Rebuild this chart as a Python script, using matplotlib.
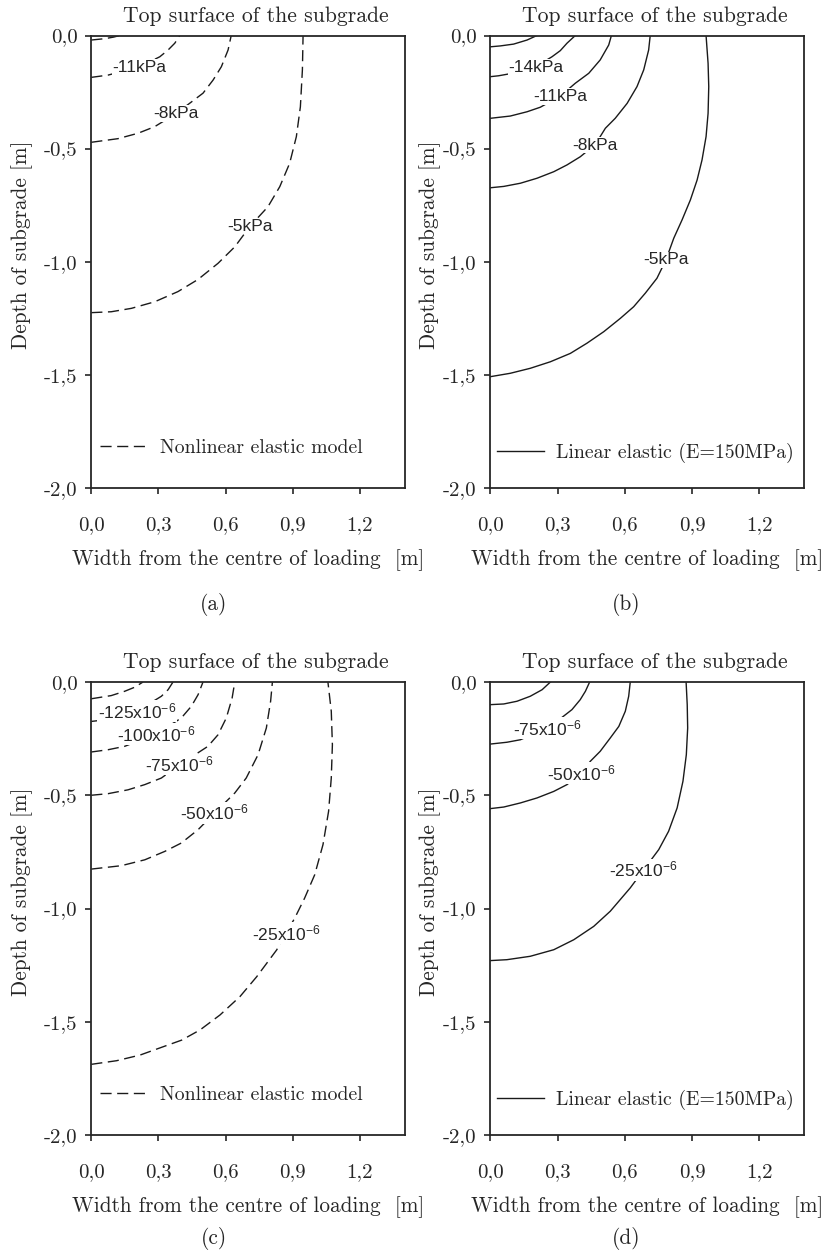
import matplotlib
matplotlib.use("Agg")
import matplotlib.pyplot as plt

plt.rcParams["mathtext.fontset"] = "custom"
plt.rcParams["mathtext.rm"] = "Liberation Sans"
plt.rcParams["mathtext.default"] = "rm"

INK = "#262626"
SERIF = "cmr10"
SANS = "Liberation Sans"

# contour lines: (label, width from centre [m], depth [m]), innermost first
stress_nonlinear = [
    (None, [0.0, 0.06, 0.10, 0.127], [-0.020, -0.014, -0.007, 0.0]),
    ("-11kPa", [0.0, 0.075, 0.216, 0.306, 0.343, 0.373, 0.395],
               [-0.185, -0.175, -0.138, -0.094, -0.064, -0.034, 0.0]),
    ("-8kPa", [0.0, 0.119, 0.209, 0.283, 0.380, 0.499, 0.544, 0.581, 0.611, 0.625],
              [-0.472, -0.456, -0.432, -0.403, -0.344, -0.255, -0.197, -0.138, -0.064, 0.0]),
    ("-5kPa", [0.0, 0.089, 0.179, 0.283, 0.387, 0.477, 0.566, 0.641, 0.710, 0.789, 0.842,
               0.886, 0.916, 0.934, 0.943, 0.946],
              [-1.225, -1.221, -1.206, -1.177, -1.132, -1.078, -1.007, -0.934, -0.842, -0.757, -0.668,
               -0.565, -0.447, -0.315, -0.152, 0.0]),
]
stress_linear = [
    (None, [0.0, 0.045, 0.104, 0.164, 0.208], [-0.050, -0.046, -0.038, -0.020, 0.0]),
    ("-14kPa", [0.0, 0.037, 0.082, 0.205, 0.275, 0.312, 0.342, 0.379],
               [-0.182, -0.178, -0.170, -0.136, -0.094, -0.067, -0.034, 0.0]),
    ("-11kPa", [0.0, 0.089, 0.164, 0.223, 0.312, 0.379, 0.439, 0.490, 0.528, 0.540],
               [-0.366, -0.356, -0.337, -0.317, -0.268, -0.211, -0.167, -0.108, -0.042, 0.0]),
    ("-8kPa", [0.0, 0.060, 0.134, 0.208, 0.283, 0.342, 0.401, 0.468, 0.513, 0.557, 0.610,
               0.654, 0.684, 0.706, 0.713],
              [-0.673, -0.667, -0.653, -0.631, -0.602, -0.572, -0.536, -0.482, -0.410, -0.366, -0.300,
               -0.226, -0.152, -0.064, 0.0]),
    ("-5kPa", [0.0, 0.089, 0.178, 0.268, 0.357, 0.431, 0.506, 0.580, 0.639, 0.691, 0.743, 0.783,
               0.818, 0.855, 0.892, 0.922, 0.944, 0.962, 0.971, 0.974, 0.971, 0.962],
              [-1.508, -1.493, -1.471, -1.442, -1.405, -1.360, -1.309, -1.250, -1.199, -1.139, -1.073, -0.992,
               -0.896, -0.815, -0.727, -0.639, -0.550, -0.447, -0.344, -0.226, -0.123, 0.0]),
]
strain_nonlinear = [
    (None, [0.0, 0.089, 0.149, 0.194, 0.231], [-0.074, -0.060, -0.041, -0.023, 0.0]),
    ("-125x10$^{-6}$", [0.0, 0.045, 0.204, 0.313, 0.343, 0.365],
                       [-0.174, -0.169, -0.129, -0.063, -0.034, 0.0]),
    ("-100x10$^{-6}$", [0.0, 0.075, 0.149, 0.290, 0.402, 0.447, 0.477, 0.499],
                       [-0.309, -0.299, -0.284, -0.230, -0.159, -0.107, -0.056, 0.0]),
    ("-75x10$^{-6}$", [0.0, 0.075, 0.164, 0.239, 0.313, 0.395, 0.521, 0.566, 0.603, 0.629, 0.641],
                      [-0.500, -0.493, -0.476, -0.453, -0.424, -0.365, -0.284, -0.233, -0.159, -0.071, 0.0]),
    ("-50x10$^{-6}$", [0.0, 0.134, 0.239, 0.328, 0.402, 0.477, 0.551, 0.641, 0.692, 0.745, 0.782,
                       0.801, 0.809],
                      [-0.826, -0.811, -0.785, -0.748, -0.711, -0.652, -0.578, -0.490, -0.424, -0.321, -0.203,
                       -0.085, 0.0]),
    ("-25x10$^{-6}$", [0.0, 0.113, 0.218, 0.322, 0.404, 0.486, 0.575, 0.664, 0.739, 0.828, 0.871,
                       0.909, 0.953, 0.998, 1.035, 1.060, 1.072, 1.077, 1.072, 1.057],
                      [-1.688, -1.672, -1.647, -1.610, -1.581, -1.536, -1.470, -1.389, -1.301, -1.183, -1.108,
                       -1.042, -0.954, -0.851, -0.718, -0.571, -0.424, -0.277, -0.129, 0.0]),
]
strain_linear = [
    (None, [0.0, 0.060, 0.119, 0.178, 0.231, 0.268], [-0.100, -0.097, -0.085, -0.063, -0.034, 0.0]),
    ("-75x10$^{-6}$", [0.0, 0.074, 0.134, 0.253, 0.320, 0.364, 0.401, 0.424, 0.443],
                      [-0.274, -0.266, -0.255, -0.203, -0.156, -0.122, -0.078, -0.041, 0.0]),
    ("-50x10$^{-6}$", [0.0, 0.060, 0.134, 0.208, 0.283, 0.342, 0.406, 0.446, 0.490, 0.535, 0.573,
                       0.602, 0.617, 0.624],
                      [-0.559, -0.552, -0.534, -0.512, -0.483, -0.453, -0.402, -0.350, -0.306, -0.247, -0.196,
                       -0.129, -0.063, 0.0]),
    ("-25x10$^{-6}$", [0.0, 0.074, 0.178, 0.283, 0.372, 0.461, 0.535, 0.624, 0.684, 0.751, 0.795,
                       0.833, 0.859, 0.874, 0.880, 0.878, 0.873],
                      [-1.230, -1.226, -1.211, -1.182, -1.138, -1.079, -1.012, -0.909, -0.829, -0.740, -0.659,
                       -0.556, -0.438, -0.321, -0.203, -0.100, 0.0]),
]

# where each contour label sits (data coords)
label_pos = {
    "a": [(0.216, -0.142), (0.380, -0.344), (0.710, -0.842)],
    "b": [(0.205, -0.142), (0.312, -0.270), (0.468, -0.484), (0.783, -0.992)],
    "c": [(0.204, -0.129), (0.290, -0.230), (0.395, -0.365), (0.551, -0.578), (0.871, -1.108)],
    "d": [(0.253, -0.203), (0.406, -0.402), (0.684, -0.829)],
}

xticks = [0.0, 0.3, 0.6, 0.9, 1.2]
xticklabels = ["0,0", "0,3", "0,6", "0,9", "1,2"]
yticks = [0.0, -0.5, -1.0, -1.5, -2.0]
yticklabels = ["0,0", "-0,5", "-1,0", "-1,5", "-2,0"]

W, H = 831, 1256
fig = plt.figure(figsize=(W / 100, H / 100), dpi=100)


def px_axes(left, top, right, bottom):
    return fig.add_axes([left / W, 1 - bottom / H, (right - left) / W, (bottom - top) / H])


def draw_panel(ax, curves, labels, dashed, legend_text, ylab_x, leg_x, leg_y):
    ls = (0, (8, 4)) if dashed else "-"
    first = None
    for (lab, xs, ys) in curves:
        ln, = ax.plot(xs, ys, color="#1a1a1a", lw=1.0, linestyle=ls,
                      solid_joinstyle="round", dash_joinstyle="round")
        if first is None:
            first = ln
    named = [c for c in curves if c[0] is not None]
    for (lab, xs, ys), (lx, ly) in zip(named, labels):
        ax.text(lx, ly, lab, family=SANS, fontsize=12.5, color=INK, ha="center", va="center",
                bbox=dict(facecolor="white", edgecolor="none", pad=0.6), zorder=5)

    ax.set_xlim(0, 1.4)
    ax.set_ylim(-2.0, 0.0)
    ax.set_xticks(xticks)
    ax.set_xticklabels(xticklabels, family=SERIF, fontsize=15, color=INK)
    ax.set_yticks(yticks)
    ax.set_yticklabels(yticklabels, family=SERIF, fontsize=15, color=INK)
    ax.tick_params(axis="x", direction="out", length=4, width=1.2, color=INK, pad=16)
    ax.tick_params(axis="y", direction="out", length=4, width=1.2, color=INK, pad=6)
    for s in ax.spines.values():
        s.set_linewidth(1.3)
        s.set_color(INK)

    ax.set_title("Top surface of the subgrade", family=SERIF, fontsize=15.6, color=INK, pad=10, x=0.525)
    ax.set_xlabel("Width from the centre of loading  [m]", family=SERIF, fontsize=15.3, color=INK)
    ax.xaxis.set_label_coords(0.5, -0.135)
    ax.set_ylabel("Depth of subgrade [m]", family=SERIF, fontsize=15.3, color=INK)
    ax.yaxis.set_label_coords(ylab_x, 0.537)

    leg = ax.legend([first], [legend_text], loc="center left", bbox_to_anchor=(leg_x, leg_y),
                    frameon=False, borderaxespad=0, borderpad=0, handlelength=2.4,
                    handletextpad=0.6, prop={"family": SERIF, "size": 14.3})
    for t in leg.get_texts():
        t.set_color(INK)


ax_a = px_axes(91.3, 35.5, 404.7, 488)
ax_b = px_axes(490.3, 35.5, 804.3, 488)
ax_c = px_axes(91.3, 682, 404.7, 1135)
ax_d = px_axes(490.3, 682, 804.3, 1135)

draw_panel(ax_a, stress_nonlinear, label_pos["a"], True, "Nonlinear elastic model", -0.186, 0.028, 0.088)
draw_panel(ax_b, stress_linear, label_pos["b"], False, "Linear elastic (E=150MPa)", -0.157, 0.020, 0.077)
draw_panel(ax_c, strain_nonlinear, label_pos["c"], True, "Nonlinear elastic model", -0.186, 0.028, 0.088)
draw_panel(ax_d, strain_linear, label_pos["d"], False, "Linear elastic (E=150MPa)", -0.157, 0.020, 0.077)

for tag, x, y in [("(a)", 214, 604), ("(b)", 626, 604), ("(c)", 214, 1238), ("(d)", 626, 1238)]:
    fig.text(x / W, 1 - y / H, tag, family=SERIF, fontsize=15.3, color=INK, ha="center", va="center")

fig.savefig("out.png", dpi=100, facecolor="white")
